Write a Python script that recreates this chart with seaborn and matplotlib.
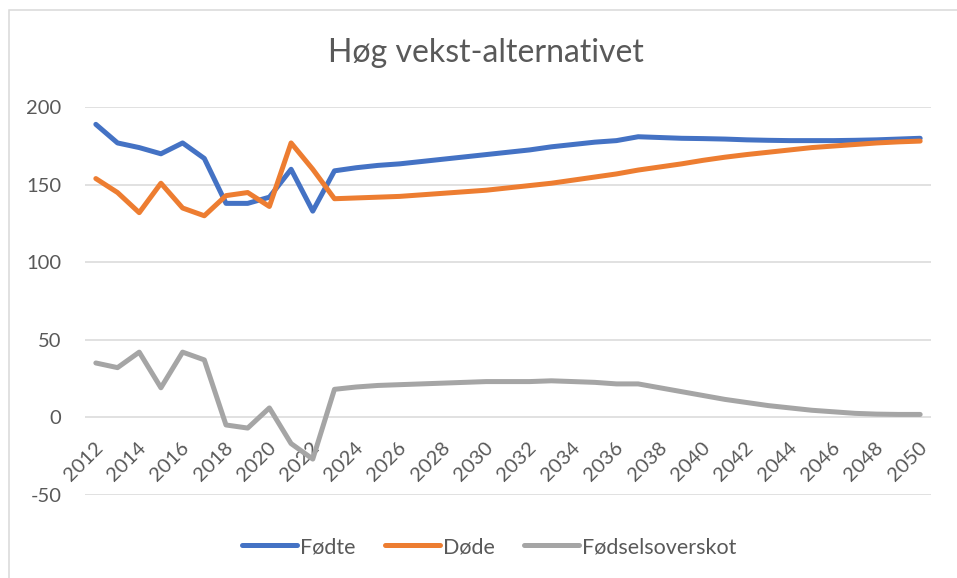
import numpy as np
import pandas as pd
import matplotlib
matplotlib.use("Agg")
import matplotlib.pyplot as plt
import matplotlib.transforms as mtransforms
from matplotlib.patches import Rectangle
import seaborn as sns

years = list(range(2012, 2051))
fodte = [189, 177, 174, 170, 177, 167, 138, 138, 142, 160, 133,
         159, 161, 162.5, 163.5, 165, 166.5, 168, 169.5, 171, 172.5,
         174.5, 176, 177.5, 178.5, 181, 180.5, 180, 179.8, 179.5, 179,
         178.7, 178.5, 178.5, 178.5, 178.7, 179, 179.5, 180]
dode = [154, 145, 132, 151, 135, 130, 143, 145, 136, 177, 160,
        141, 141.5, 142, 142.5, 143.5, 144.5, 145.5, 146.5, 148, 149.5,
        151, 153, 155, 157, 159.5, 161.5, 163.5, 165.8, 167.8, 169.5,
        171, 172.5, 174, 175, 176, 177, 177.7, 178.2]
overskot = [35, 32, 42, 19, 42, 37, -5, -7, 6, -17, -27,
            18, 19.5, 20.5, 21, 21.5, 22, 22.5, 23, 23, 23,
            23.5, 23, 22.5, 21.5, 21.5, 19, 16.5, 14, 11.5, 9.5,
            7.5, 6, 4.5, 3.5, 2.5, 2, 1.8, 1.8]
series_names = ["Fødte", "Døde", "Fødselsoverskot"]
colors = ["#4472C4", "#ED7D31", "#A5A5A5"]
title = "Høg vekst-alternativet"
y_ticks = [-50, 0, 50, 100, 150, 200]
x_ticks = years[::2]

df = pd.DataFrame({
    "year": years * 3,
    "value": fodte + dode + overskot,
    "serie": [series_names[0]] * len(years) + [series_names[1]] * len(years)
             + [series_names[2]] * len(years),
})

sns.set_theme(style="white")
plt.rcParams["font.family"] = ["Lato", "DejaVu Sans"]
plt.rcParams["axes.unicode_minus"] = False
text_col = "#595959"

fig = plt.figure(figsize=(9.57, 5.78), dpi=100)
ax = fig.add_axes([85 / 957, 83.3 / 578, 846 / 957, 387.4 / 578])

sns.lineplot(data=df, x="year", y="value", hue="serie",
             palette=dict(zip(series_names, colors)), linewidth=3.6,
             ax=ax, legend=False, sort=False,
             solid_capstyle="round", solid_joinstyle="round", zorder=3)

ax.set_xlim(years[0] - 0.5, years[-1] + 0.5)
ax.set_ylim(y_ticks[0], y_ticks[-1])
ax.set_yticks(y_ticks)
ax.set_xticks(x_ticks)
ax.set_xticklabels([str(y) for y in x_ticks])
ax.grid(axis="y", color="#D9D9D9", linewidth=1.1, zorder=0)
ax.grid(axis="x", visible=False)
for s in ax.spines.values():
    s.set_visible(False)
ax.spines["bottom"].set_position(("data", 0))
ax.set_xlabel("")
ax.set_ylabel("")

ax.tick_params(axis="y", length=0, pad=17, labelsize=14.5, labelcolor=text_col)
ax.tick_params(axis="x", length=0, pad=20, labelsize=14.5, labelcolor=text_col)
offset = mtransforms.ScaledTranslation(4 / 100, 0, fig.dpi_scale_trans)
for lab in ax.get_xticklabels():
    lab.set_rotation(45)
    lab.set_ha("right")
    lab.set_va("center")
    lab.set_rotation_mode("anchor")
    lab.set_transform(lab.get_transform() + offset)

fig.text(486 / 957, 1 - 53 / 578, title, ha="center", va="center",
         fontsize=23, color=text_col)

handles = [plt.Line2D([0], [0], color=c, lw=3.6, solid_capstyle="round")
           for c in colors]
leg = fig.legend(handles, series_names, loc="center",
                 bbox_to_anchor=(489 / 957, 1 - 547 / 578), ncol=3,
                 frameon=False, fontsize=15.5, handlelength=2.56,
                 handletextpad=0.14, columnspacing=1.35)
for t in leg.get_texts():
    t.set_color(text_col)

fig.patches.append(Rectangle((8.5 / 957, -0.1), 1.2, 1.1 - 9.5 / 578,
                             transform=fig.transFigure, fill=False,
                             edgecolor="#D9D9D9", linewidth=1.1))

fig.savefig("out.png", dpi=100, facecolor="white")
